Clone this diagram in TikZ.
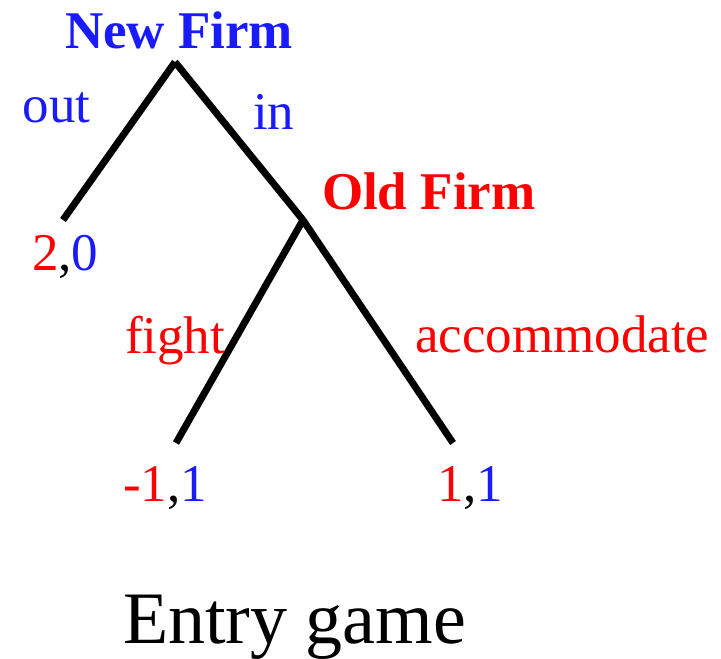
\documentclass[tikz,border=0pt]{standalone}
\usepackage{fontspec}
\setmainfont{Liberation Serif}
\definecolor{pblue}{RGB}{26,26,255}
\definecolor{pred}{RGB}{255,0,0}
\tikzset{
  branch/.style={line width=7pt, line cap=butt, black},
  lbl/.style={anchor=base west, inner sep=0pt, outer sep=0pt, font=\fontsize{53}{60}\selectfont},
  player/.style={lbl, font=\fontsize{53}{60}\selectfont\bfseries},
}
\begin{document}
\begin{tikzpicture}[x=1pt, y=-1pt]
  \useasboundingbox (0,0) rectangle (721,659);
  % decision nodes and leaves
  \coordinate (root) at (175,62);
  \coordinate (old) at (303,220);
  \coordinate (outleaf) at (63,220);
  \coordinate (fightleaf) at (176,443);
  \coordinate (accleaf) at (453,443);
  % branches
  \draw[branch] (root) -- (outleaf);
  \draw[branch] (root) -- (old);
  \draw[branch] (old) -- (fightleaf);
  \draw[branch] (old) -- (accleaf);
  % players
  \node[player, text=pblue] (newfirm) at (65,48) {New Firm};
  \node[player, text=pred] (oldfirm) at (322,209) {Old Firm};
  % actions
  \node[lbl, text=pblue] (outl) at (23,122) {out};
  \node[lbl, text=pblue] (inl) at (253,129) {in};
  \node[lbl, text=pred] (fightl) at (125,353) {fight};
  \node[lbl, text=pred] (accl) at (415,352) {accommodate};
  % payoffs
  \node[lbl] (pay1) at (32,270) {\textcolor{pred}{2},\textcolor{pblue}{0}};
  \node[lbl] (pay2) at (123,501) {\textcolor{pred}{-1},\textcolor{pblue}{1}};
  \node[lbl] (pay3) at (437,501) {\textcolor{pred}{1},\textcolor{pblue}{1}};
  % caption
  \node[lbl, font=\fontsize{74}{84}\selectfont] (caption) at (123,643) {Entry game};
\end{tikzpicture}
\end{document}
